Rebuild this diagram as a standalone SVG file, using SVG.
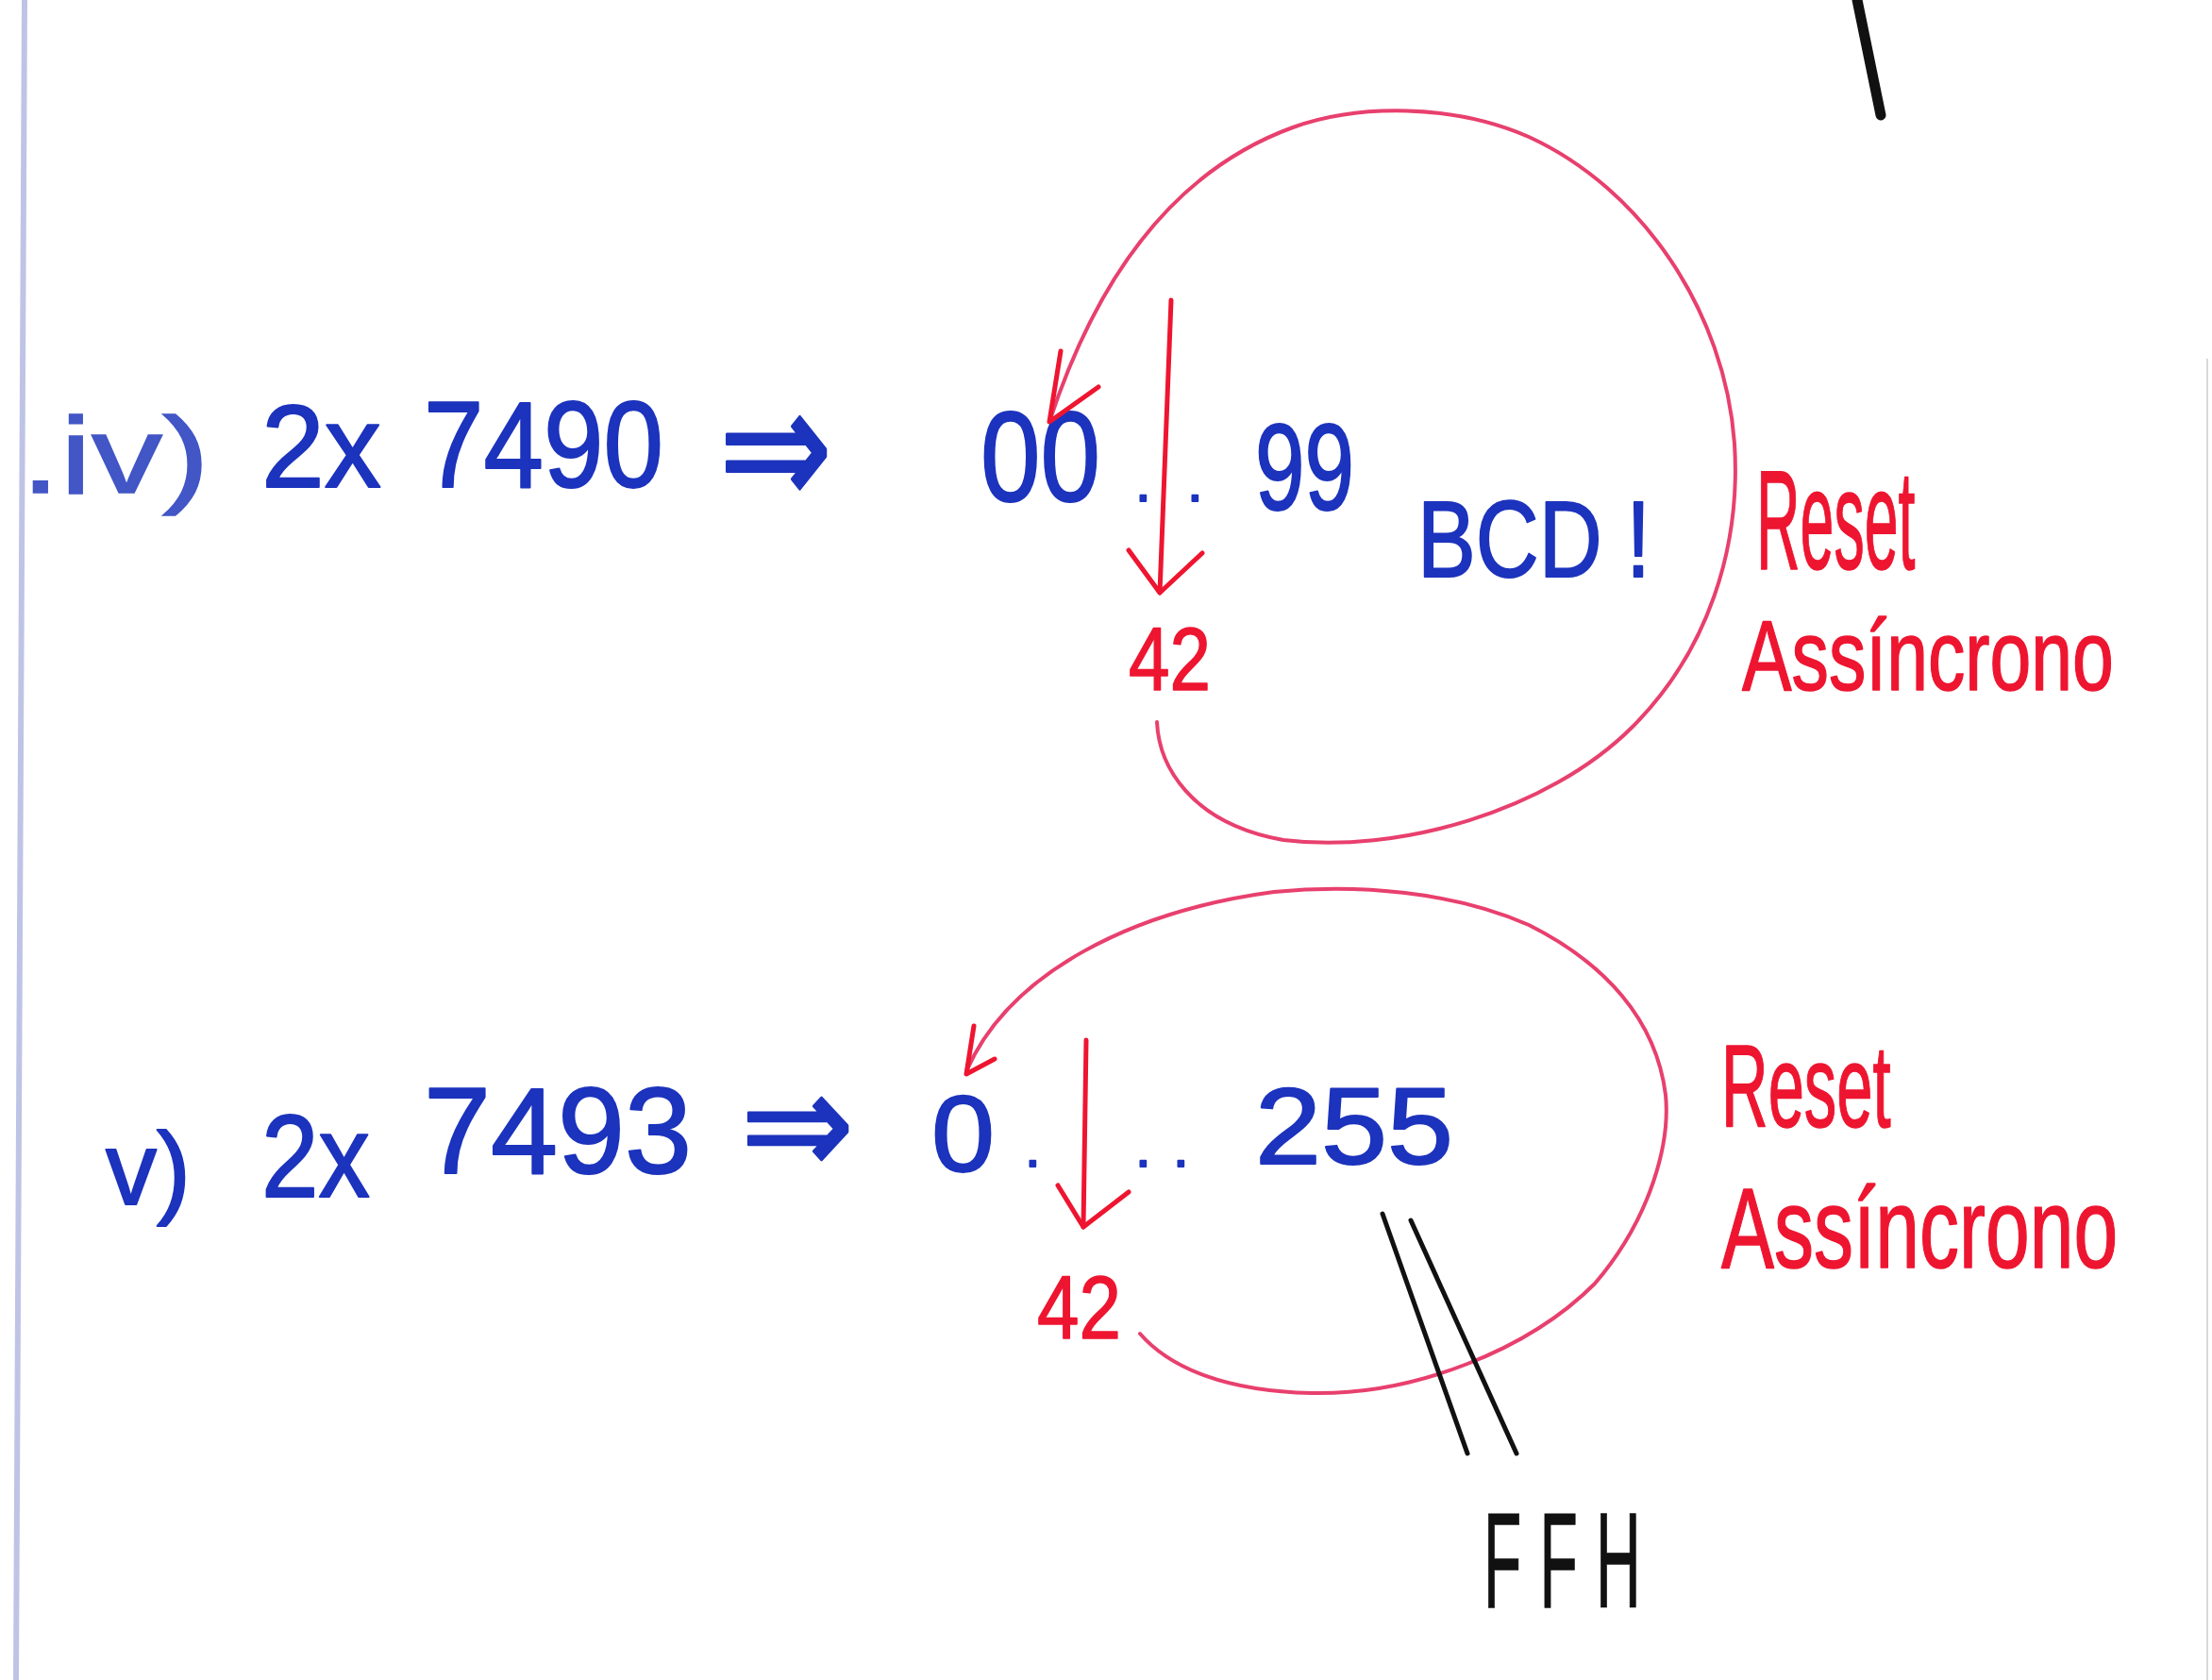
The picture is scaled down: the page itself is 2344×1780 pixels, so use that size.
<svg xmlns="http://www.w3.org/2000/svg" width="2344" height="1780" viewBox="0 0 2344 1780">
<style>
text{font-family:"Liberation Sans","DejaVu Sans",sans-serif;}
.blue{fill:#1c33bd;stroke:#1c33bd;stroke-width:2;stroke-linejoin:round;}
.lblue{fill:#4256c6;stroke:#4256c6;stroke-width:1.5;}
.red{fill:#ee1530;stroke:#ee1530;stroke-width:1.5;stroke-linejoin:round;}
.blk{fill:#111;stroke:#111;stroke-width:1;}
.arc{fill:none;stroke:#e8406e;stroke-width:4;stroke-linecap:round;stroke-linejoin:round;}
.rarrow{fill:none;stroke:#ee1530;stroke-width:5;stroke-linecap:round;stroke-linejoin:round;}
.bline{fill:none;stroke:#111;stroke-width:5;stroke-linecap:round;}
</style>
<rect width="2344" height="1780" fill="#ffffff"/>
<line x1="26" y1="0" x2="17" y2="1780" stroke="#bfc4e6" stroke-width="6"/>
<line x1="2339" y1="380" x2="2339" y2="1780" stroke="#d8d8d8" stroke-width="2"/>
<line x1="1968" y1="0" x2="1993" y2="122" stroke="#111" stroke-width="11" stroke-linecap="round"/>

<g id="row-iv">
  <text class="lblue" x="22" y="522" font-size="115" textLength="200" lengthAdjust="spacingAndGlyphs">.iv)</text>
  <text class="blue" x="277" y="516" font-size="125" textLength="127" lengthAdjust="spacingAndGlyphs">2x</text>
  <text class="blue" x="449" y="516" font-size="130" textLength="254" lengthAdjust="spacingAndGlyphs">7490</text>
  <text class="blue" transform="translate(762,536) scale(1,1.5)" font-size="120" textLength="120" lengthAdjust="spacingAndGlyphs">⇒</text>
</g>
<g id="range-00-99">
  <text class="blue" x="1039" y="531" font-size="135" textLength="127" lengthAdjust="spacingAndGlyphs">00</text>
  <text class="blue" font-size="60"><tspan x="1203" y="531">.</tspan><tspan x="1258" y="531">.</tspan></text>
  <text class="blue" x="1330" y="540" font-size="130" textLength="105" lengthAdjust="spacingAndGlyphs">99</text>
</g>
<g id="bcd">
  <text class="blue" x="1502" y="611" font-size="115" textLength="247" lengthAdjust="spacingAndGlyphs">BCD !</text>
</g>
<g id="label-42-top">
  <text class="red" x="1196" y="731" font-size="95" textLength="87" lengthAdjust="spacingAndGlyphs">42</text>
</g>
<g id="reset-top">
  <text class="red" transform="translate(1861,603) scale(0.43,1)" font-size="150">Reset</text>
  <text class="red" transform="translate(1846,731) scale(0.75,1)" font-size="105">Assíncrono</text>
</g>

<g id="row-v">
  <text class="blue" x="112" y="1276" font-size="110" textLength="90" lengthAdjust="spacingAndGlyphs">v)</text>
  <text class="blue" x="277" y="1268" font-size="125" textLength="115" lengthAdjust="spacingAndGlyphs">2x</text>
  <text class="blue" x="449" y="1243" font-size="130" textLength="284" lengthAdjust="spacingAndGlyphs">7493</text>
  <text class="blue" transform="translate(785,1244) scale(1,1.4)" font-size="110" textLength="120" lengthAdjust="spacingAndGlyphs">⇒</text>
</g>
<g id="range-0-255">
  <text class="blue" x="987" y="1241" font-size="115" textLength="67" lengthAdjust="spacingAndGlyphs">0</text>
  <text class="blue" font-size="60"><tspan x="1086" y="1236">.</tspan><tspan x="1203" y="1236">.</tspan><tspan x="1243" y="1236">.</tspan></text>
  <text class="blue" x="1330" y="1233" font-size="115" textLength="210" lengthAdjust="spacingAndGlyphs">255</text>
</g>
<g id="label-42-bottom">
  <text class="red" x="1099" y="1418" font-size="95" textLength="89" lengthAdjust="spacingAndGlyphs">42</text>
</g>
<g id="reset-bottom">
  <text class="red" transform="translate(1824,1194) scale(0.55,1)" font-size="125">Reset</text>
  <text class="red" transform="translate(1824,1343) scale(0.70,1)" font-size="120">Assíncrono</text>
</g>
<g id="ffh">
  <text class="blk" transform="translate(1572,1703) scale(0.6,1.3)" font-size="110" letter-spacing="32">FFH</text>
</g>

<g id="connectors">
  <path class="arc" d="M1226,765 C1228,810 1260,872 1360,890 C1480,905 1640,860 1730,770 C1810,690 1845,580 1838,470 C1828,330 1740,200 1620,145 C1540,110 1440,110 1370,135 C1260,175 1170,270 1112,447"/>
  <polyline class="rarrow" points="1124,372 1112,447 1164,410"/>
  <path class="rarrow" d="M1241,318 L1229,628"/>
  <polyline class="rarrow" points="1196,583 1229,628 1274,586"/>

  <path class="arc" d="M1208,1413 C1240,1450 1300,1474 1390,1476 C1500,1478 1620,1430 1690,1360 C1750,1290 1770,1210 1765,1160 C1755,1080 1700,1020 1620,980 C1540,945 1440,936 1350,945 C1200,965 1070,1030 1024,1135"/>
  <polyline class="rarrow" points="1032,1087 1024,1138 1054,1122"/>
  <path class="rarrow" d="M1151,1102 L1148,1300"/>
  <polyline class="rarrow" points="1121,1256 1148,1300 1196,1263"/>

  <line class="bline" x1="1465" y1="1286" x2="1555" y2="1540"/>
  <line class="bline" x1="1495" y1="1293" x2="1607" y2="1540"/>
</g>
</svg>
